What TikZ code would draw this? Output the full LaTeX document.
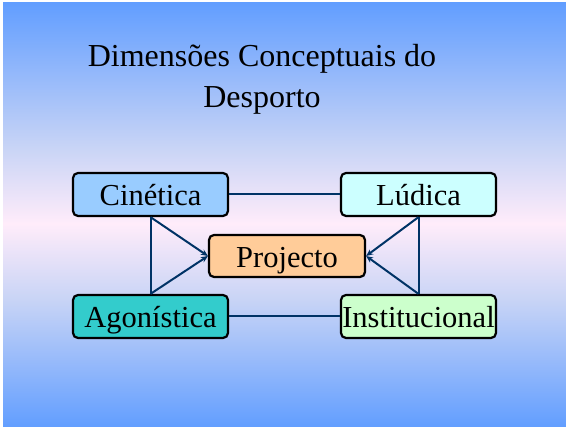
\documentclass[tikz,border=0pt]{standalone}
\usepackage{fontspec}
\setmainfont{Liberation Serif}
\usetikzlibrary{arrows.meta}

\definecolor{slideblue}{RGB}{98,158,255}
\definecolor{slidemid}{RGB}{200,212,246}
\definecolor{slidepink}{RGB}{255,236,250}
\definecolor{linkblue}{RGB}{0,51,102}
\pgfdeclareverticalshading{slidebg}{100bp}{color(0bp)=(slideblue); color(25bp)=(slideblue); color(40bp)=(slidemid); color(49bp)=(slidepink); color(58bp)=(slidemid); color(75bp)=(slideblue); color(100bp)=(slideblue)}

\begin{document}
\begin{tikzpicture}[x=1pt, y=-1pt,
    dimbox/.style={draw, line width=2.2pt, rounded corners=5pt, inner sep=0pt,
        minimum width=155pt, minimum height=43pt, text height=30pt, text depth=7pt,
        font=\fontsize{30.5}{34}\selectfont},
    link/.style={draw=linkblue, line width=2pt},
    arr/.style={link, -{Stealth[length=7pt, width=6pt]}}]
    % Slide background
    \useasboundingbox (0,0) rectangle (566,427);
    \fill[white] (0,0) rectangle (566,427);
    \shade[shading=slidebg] (3,3) rectangle (566,427);

    % Title
    \node[anchor=base, font=\fontsize{32}{41}\selectfont] (titleA) at (262,67) {Dimensões Conceptuais do};
    \node[anchor=base, font=\fontsize{32}{41}\selectfont] (titleB) at (262,108) {Desporto};

    % Dimensions
    \node[dimbox, fill={rgb,255:red,153;green,204;blue,255}] (cin) at (150.5,194.5) {Cinética};
    \node[dimbox, fill={rgb,255:red,204;green,255;blue,255}] (lud) at (418.5,194.5) {Lúdica};
    \node[dimbox, fill={rgb,255:red,51;green,204;blue,204}] (ago) at (150.5,316.5) {Agonística};
    \node[dimbox, fill={rgb,255:red,204;green,255;blue,204}] (ins) at (418.5,316.5) {Institucional};
    \node[dimbox, minimum width=156pt, minimum height=42pt, fill={rgb,255:red,255;green,204;blue,153}] (pro) at (287,256) {Projecto};

    % Links between dimensions
    \draw[link] (cin) -- (lud);
    \draw[link] (ago) -- (ins);
    \draw[link] (cin.south) -- (ago.north);
    \draw[link] (lud.south) -- (ins.north);

    % Arrows to the project
    \draw[arr] (cin.south) -- (pro.west);
    \draw[arr] (ago.north) -- (pro.west);
    \draw[arr] (lud.south) -- (pro.east);
    \draw[arr] (ins.north) -- (pro.east);
\end{tikzpicture}
\end{document}
